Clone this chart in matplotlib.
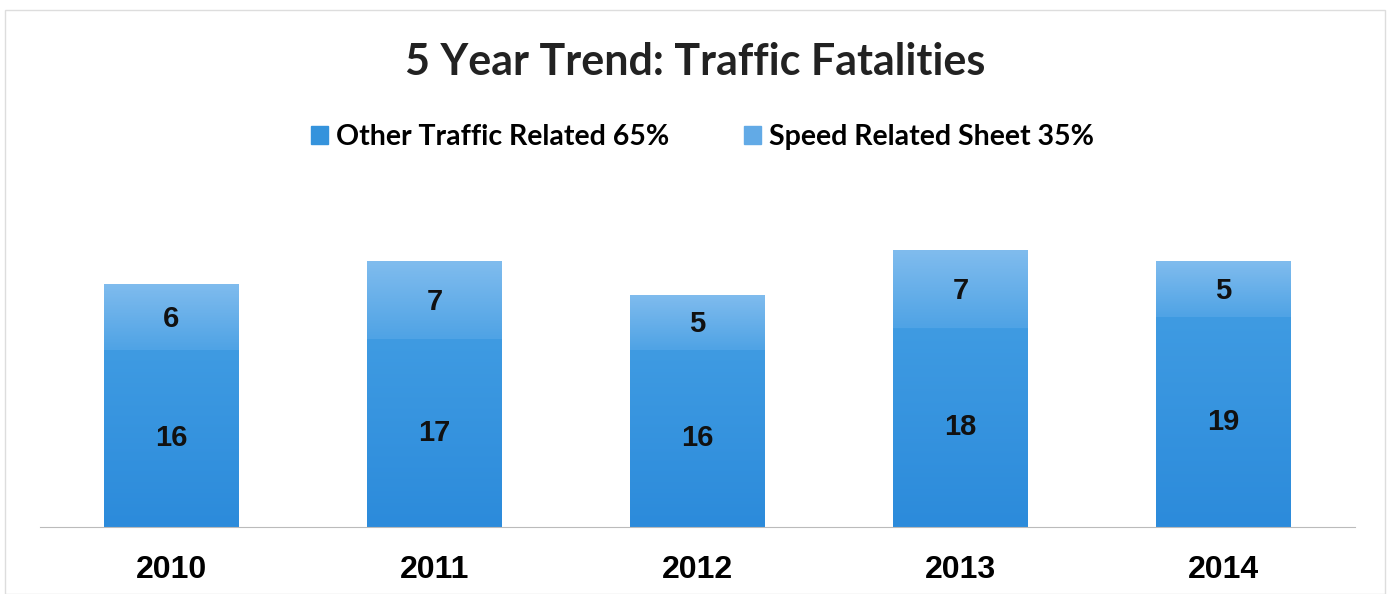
import numpy as np
import matplotlib.pyplot as plt
from matplotlib.patches import Rectangle
from matplotlib.colors import LinearSegmentedColormap

# chart data
years = ['2010', '2011', '2012', '2013', '2014']
other_related = [16, 17, 16, 18, 19]
speed_related = [6, 7, 5, 7, 5]
legend_labels = ['Other Traffic Related 65%', 'Speed Related Sheet 35%']

other_color = '#3593dc'
speed_color = '#62aae6'
other_cmap = LinearSegmentedColormap.from_list('other', ['#2c8bdb', '#3f9be2'])
speed_cmap = LinearSegmentedColormap.from_list('speed', ['#4fa3e5', '#80bcee'])

fig = plt.figure(figsize=(13.91, 5.94), dpi=100)
ax = fig.add_axes([40 / 1391, 67 / 594, 1315 / 1391, 332 / 594])

x = range(len(years))
bars_other = ax.bar(x, other_related, width=0.51, color=other_color)
bars_speed = ax.bar(x, speed_related, width=0.51, bottom=other_related, color=speed_color)

# vertical gradient fill inside each bar segment
grad = np.linspace(0, 1, 100).reshape(-1, 1)
for bars, cmap in [(bars_other, other_cmap), (bars_speed, speed_cmap)]:
    for b in bars:
        x0, y0 = b.get_x(), b.get_y()
        im = ax.imshow(grad, extent=[x0, x0 + b.get_width(), y0, y0 + b.get_height()],
                       origin='lower', aspect='auto', cmap=cmap, zorder=b.get_zorder())
        im.set_clip_path(b)

for i in x:
    ax.text(i, other_related[i] / 2, str(other_related[i]), ha='center', va='center',
            fontsize=21, fontweight='bold', family='Liberation Sans', color='#111111', zorder=5)
    ax.text(i, other_related[i] + speed_related[i] / 2 - 0.2, str(speed_related[i]), ha='center',
            va='center', fontsize=21, fontweight='bold', family='Liberation Sans', color='#111111', zorder=5)

ax.set_xlim(-0.5, 4.5)
ax.set_ylim(0, 30)
ax.set_xticks(list(x))
ax.set_xticklabels(years, fontsize=23, fontweight='bold', family='Liberation Sans')
ax.tick_params(axis='x', length=0, pad=20)
ax.set_yticks([])
for side in ['top', 'left', 'right']:
    ax.spines[side].set_visible(False)
ax.spines['bottom'].set_color('#bbbbbb')

fig.text(0.5, 1 - 62 / 594, '5 Year Trend: Traffic Fatalities', ha='center', va='center',
         fontsize=31, fontweight='bold', family='Lato', color='#222222')

# legend
handles = [Rectangle((0, 0), 1, 1, color=other_color), Rectangle((0, 0), 1, 1, color=speed_color)]
fig.legend(handles, legend_labels, loc='center', bbox_to_anchor=(0.505, 1 - 137 / 594), ncol=2,
           frameon=False, prop={'family': 'Lato', 'weight': 'bold', 'size': 20.5},
           handlelength=0.6, handleheight=0.6, handletextpad=0.3, columnspacing=2.6)

# faint outer frame
fig.patches.append(Rectangle((5 / 1391, 0), 1380 / 1391, 584 / 594, transform=fig.transFigure,
                             fill=False, edgecolor='#dddddd', linewidth=1))

fig.savefig('out.png', dpi=100)
